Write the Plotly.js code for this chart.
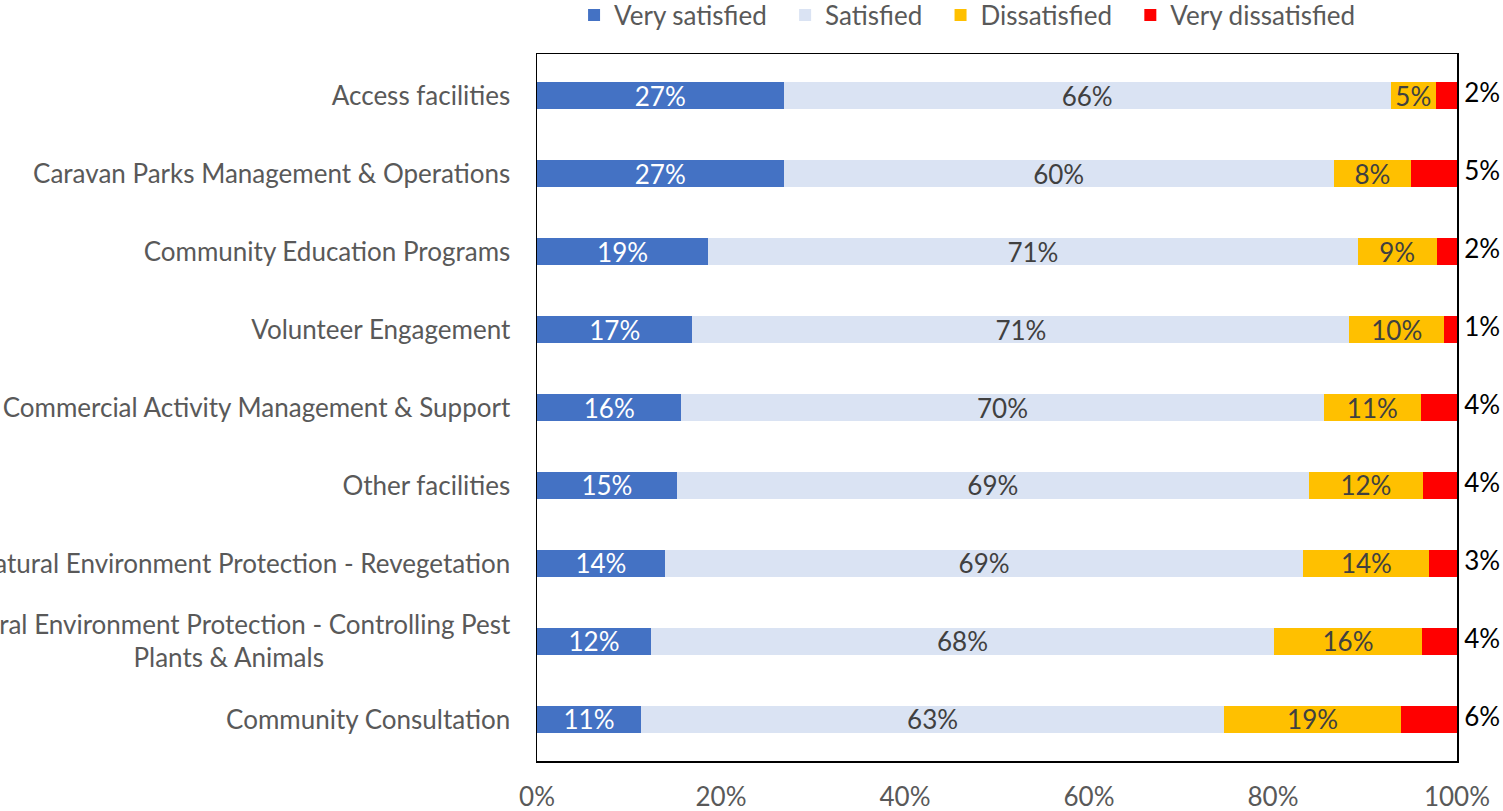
<!DOCTYPE html>
<html>
<head>
<meta charset="utf-8">
<script src="https://cdn.plot.ly/plotly-3.0.1.min.js"></script>
<style>
  html, body { margin: 0; padding: 0; background: #fff; }
  #chart { width: 1503px; height: 811px; }
</style>
</head>
<body>
<div id="chart"></div>
<script>
// ── DATA ────────────────────────────────────────────
const CATEGORIES = [
  'Access facilities',
  'Caravan Parks Management & Operations',
  'Community Education Programs',
  'Volunteer Engagement',
  'Commercial Activity Management & Support',
  'Other facilities',
  'Natural Environment Protection - Revegetation',
  // second line is centred under the first in the original, hence the padding
  'Natural Environment Protection - Controlling Pest<br>Plants & Animals' + '\u00a0'.repeat(28),
  'Community Consultation'
];

// shares in %
const VERY_SATISFIED    = [26.8, 26.8, 18.6, 16.9, 15.7, 15.2, 13.9, 12.4, 11.3];
const SATISFIED         = [66.0, 59.8, 70.6, 71.4, 69.8, 68.7, 69.4, 67.7, 63.4];
const DISSATISFIED      = [4.9,  8.4,  8.6,  10.3, 10.6, 12.4, 13.7, 16.1, 19.2];
const VERY_DISSATISFIED = [2.3,  5.0,  2.3,  1.4,  3.9,  3.7,  3.0,  3.8,  6.1];

const X_MAX = 100;
const FONT = 'Lato, "Open Sans", sans-serif';
const GREY = '#595959';
const FS = 26;
const PAD = '\u00a0\u00a0'; // a little extra room between legend entries

function series(name, values, color, textColor) {
  return {
    type: 'bar', orientation: 'h', name: name,
    y: CATEGORIES, x: values,
    marker: { color: color },
    texttemplate: '%{x:.0f}%',
    textposition: 'inside',
    insidetextanchor: 'middle',
    constraintext: 'none',
    textfont: { family: FONT, size: FS, color: textColor },
    hoverinfo: 'skip'
  };
}

// end of each stacked bar (clamped, points past the range get hidden)
const barEnds = CATEGORIES.map((_, i) => Math.min(X_MAX,
  VERY_SATISFIED[i] + SATISFIED[i] + DISSATISFIED[i] + VERY_DISSATISFIED[i]));

const traces = [
  series('Very satisfied' + PAD, VERY_SATISFIED, '#4472C4', '#ffffff'),
  series('Satisfied' + PAD,      SATISFIED,      '#DAE3F3', '#404040'),
  series('Dissatisfied' + PAD,   DISSATISFIED,   '#FFC000', '#404040'),
  { ...series('Very dissatisfied', VERY_DISSATISFIED, '#FF0000', '#000000'), texttemplate: '' },
  // "very dissatisfied" labels sit outside the frame, in black
  {
    type: 'scatter', mode: 'markers+text', showlegend: false,
    y: CATEGORIES, x: barEnds,
    marker: { size: 10, color: 'rgba(0,0,0,0)' },
    text: VERY_DISSATISFIED.map(v => v.toFixed(0) + '%'),
    textposition: 'middle right',
    textfont: { family: FONT, size: FS, color: '#000000' },
    cliponaxis: false, hoverinfo: 'skip'
  }
];

const layout = {
  width: 1503, height: 811,
  paper_bgcolor: '#ffffff', plot_bgcolor: '#ffffff',
  font: { family: FONT, size: FS, color: GREY },
  barmode: 'stack',
  bargap: 0.66,
  margin: { l: 537, r: 46, t: 54, b: 50, autoexpand: false },
  showlegend: true,
  legend: {
    orientation: 'h', x: 0.468, xanchor: 'center', y: 1.055, yanchor: 'middle',
    font: { family: FONT, size: FS, color: GREY },
    traceorder: 'normal'
  },
  xaxis: {
    range: [0, X_MAX], dtick: 20, ticksuffix: '%',
    showgrid: false, zeroline: false,
    showline: true, mirror: true, linecolor: '#000000', linewidth: 1.5,
    ticks: '', ticklabelstandoff: 12,
    tickfont: { family: FONT, size: FS, color: GREY },
    automargin: false, fixedrange: true
  },
  yaxis: {
    autorange: 'reversed', type: 'category',
    showgrid: false, zeroline: false,
    showline: true, mirror: true, linecolor: '#000000', linewidth: 1.5,
    ticks: '', ticklabelstandoff: 20,
    tickfont: { family: FONT, size: FS, color: GREY },
    automargin: false, fixedrange: true
  }
};

Plotly.newPlot('chart', traces, layout, { displayModeBar: false, staticPlot: true });
</script>
</body>
</html>
